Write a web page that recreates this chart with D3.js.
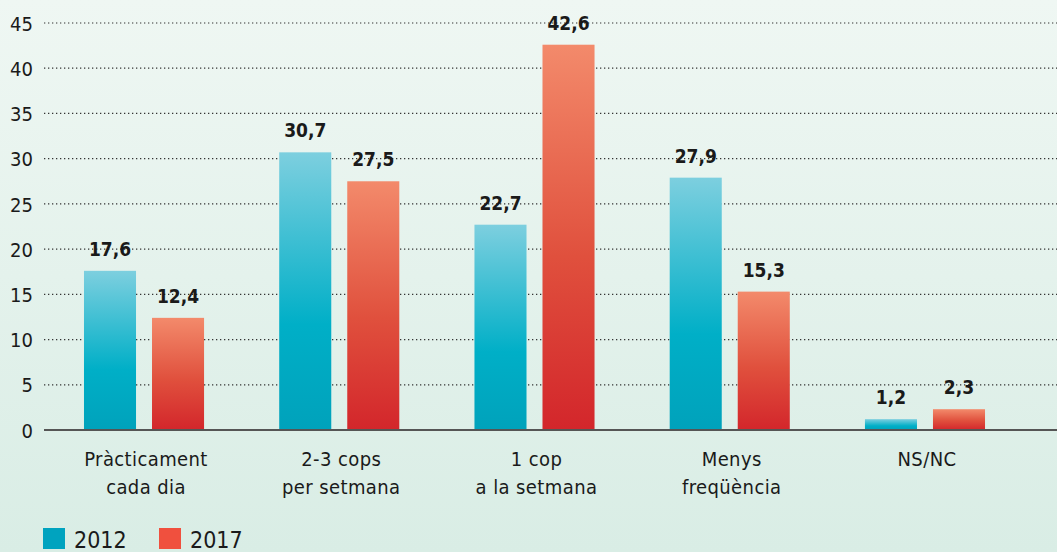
<!DOCTYPE html>
<html>
<head>
<meta charset="utf-8">
<script src="https://cdn.jsdelivr.net/npm/d3@7"></script>
<style>
  html, body { margin: 0; padding: 0; }
  body { width: 1057px; height: 552px; overflow: hidden; }
  text { font-family: "DejaVu Sans Condensed", "DejaVu Sans", sans-serif; fill: #1a1a1a; }
</style>
</head>
<body>
<div id="chart"></div>
<script>
// Data
var categories = [["Pràcticament", "cada dia"], ["2-3 cops", "per setmana"], ["1 cop", "a la setmana"], ["Menys", "freqüència"], ["NS/NC", ""]];
var years = ["2012", "2017"];
var values2012 = [17.6, 30.7, 22.7, 27.9, 1.2];
var values2017 = [12.4, 27.5, 42.6, 15.3, 2.3];
var yTicks = [0, 5, 10, 15, 20, 25, 30, 35, 40, 45];

var W = 1057, H = 552;
var svg = d3.select("#chart").append("svg").attr("width", W).attr("height", H);
var defs = svg.append("defs");

// background
var bg = defs.append("linearGradient").attr("id", "bg").attr("x1", 0).attr("y1", 0).attr("x2", 0).attr("y2", 1);
bg.append("stop").attr("offset", "0%").attr("stop-color", "#eff7f3");
bg.append("stop").attr("offset", "100%").attr("stop-color", "#d9ede5");
svg.append("rect").attr("width", W).attr("height", H).attr("fill", "url(#bg)");

// bar gradients
var gBlue = defs.append("linearGradient").attr("id", "gBlue").attr("x1", 0).attr("y1", 0).attr("x2", 0).attr("y2", 1);
gBlue.append("stop").attr("offset", "0%").attr("stop-color", "#7dcfdf");
gBlue.append("stop").attr("offset", "62%").attr("stop-color", "#00afc7");
gBlue.append("stop").attr("offset", "100%").attr("stop-color", "#00a2bb");
var gRed = defs.append("linearGradient").attr("id", "gRed").attr("x1", 0).attr("y1", 0).attr("x2", 0).attr("y2", 1);
gRed.append("stop").attr("offset", "0%").attr("stop-color", "#f38a6b");
gRed.append("stop").attr("offset", "55%").attr("stop-color", "#e0503d");
gRed.append("stop").attr("offset", "100%").attr("stop-color", "#d3262b");
var fills = {"2012": "url(#gBlue)", "2017": "url(#gRed)"};
var legendColors = {"2012": "#00a3bf", "2017": "#f0503e"};

var y = d3.scaleLinear().domain([0, 45]).range([430, 23]);

var x0 = d3.scaleBand()
    .domain(d3.range(categories.length))
    .range([46.4, 1022.6])
    .paddingInner(0.385)
    .paddingOuter(0.1925);
var x1 = d3.scaleBand().domain(years).range([0, x0.bandwidth()]).paddingInner(0.235);

// gridlines
svg.append("g").attr("class", "grid")
  .selectAll("line").data(yTicks.filter(function (d) { return d > 0; }))
  .enter().append("line")
  .attr("x1", 44).attr("x2", W)
  .attr("y1", function (d) { return y(d); }).attr("y2", function (d) { return y(d); })
  .attr("stroke", "#333").attr("stroke-width", 1.2).attr("stroke-dasharray", "1.3,2.7");

var yAxis = d3.axisLeft(y).tickValues(yTicks).tickSize(0).tickPadding(0).tickFormat(d3.format("d"));
var yg = svg.append("g").attr("transform", "translate(33,0)").call(yAxis);
yg.select(".domain").remove();
yg.selectAll("text").attr("font-size", 20).attr("dy", "0.36em")
  .style("font-family", "'DejaVu Sans Condensed', 'DejaVu Sans', sans-serif").attr("fill", "#1a1a1a");

// bars
var rows = categories.map(function (c, i) {
  return {i: i, vals: [{key: "2012", value: values2012[i]}, {key: "2017", value: values2017[i]}]};
});
var groups = svg.selectAll(".cat").data(rows).enter().append("g")
  .attr("class", "cat")
  .attr("transform", function (d) { return "translate(" + x0(d.i) + ",0)"; });

groups.selectAll("rect").data(function (d) { return d.vals; }).enter().append("rect")
  .attr("x", function (d) { return x1(d.key); })
  .attr("y", function (d) { return y(d.value); })
  .attr("width", x1.bandwidth())
  .attr("height", function (d) { return y(0) - y(d.value); })
  .attr("fill", function (d) { return fills[d.key]; });

groups.selectAll(".val").data(function (d) { return d.vals; }).enter().append("text")
  .attr("class", "val")
  .attr("x", function (d) { return x1(d.key) + x1.bandwidth() / 2; })
  .attr("y", function (d) { return y(d.value) - 15; })
  .attr("text-anchor", "middle")
  .attr("font-size", 19).attr("font-weight", "bold")
  .attr("fill", "#111")
  .text(function (d) { return d3.format(".1f")(d.value).replace(".", ","); });

// baseline
svg.append("line").attr("x1", 44).attr("x2", W).attr("y1", y(0)).attr("y2", y(0))
  .attr("stroke", "#555").attr("stroke-width", 2);

// category labels
function cx(d) { return x0(d.i) + x0.bandwidth() / 2 + 2; }
var labels = svg.selectAll(".cl").data(rows).enter().append("text")
  .attr("class", "cl")
  .attr("text-anchor", "middle").attr("font-size", 20)
  .style("letter-spacing", "0.4px");
labels.append("tspan").attr("x", cx).attr("y", 466)
  .text(function (d) { return categories[d.i][0]; });
labels.append("tspan").attr("x", cx).attr("y", 494)
  .text(function (d) { return categories[d.i][1]; });

// legend
var legend = svg.append("g").attr("class", "legend").attr("transform", "translate(43,528)");
years.forEach(function (yr, i) {
  var row = legend.append("g").attr("transform", "translate(" + (i * 116) + ",0)");
  row.append("rect").attr("width", 22).attr("height", 21).attr("fill", legendColors[yr]);
  row.append("text").attr("x", 31).attr("y", 20).attr("font-size", 23).text(yr);
});
</script>
</body>
</html>
